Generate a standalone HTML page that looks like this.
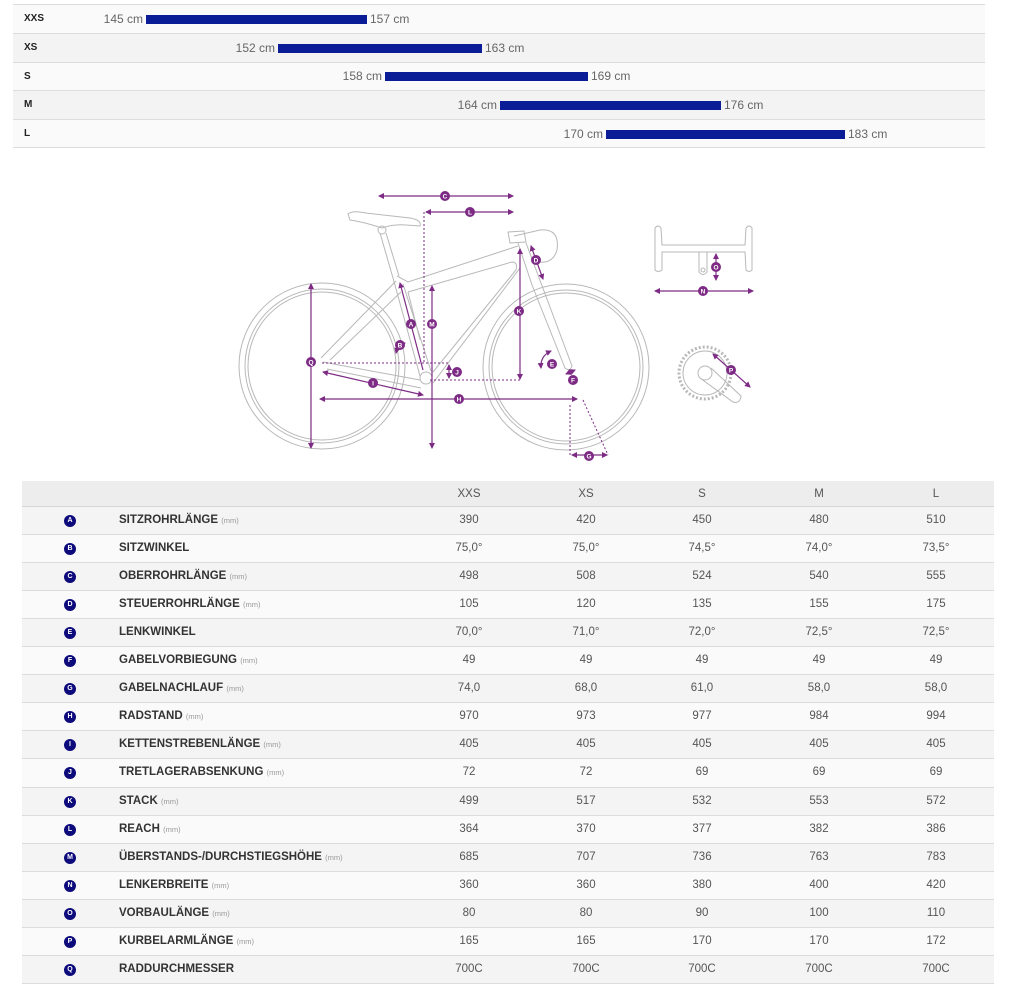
<!DOCTYPE html>
<html><head><meta charset="utf-8">
<style>
*{margin:0;padding:0;box-sizing:border-box}
html,body{width:1015px;height:1001px;background:#fff;overflow:hidden;font-family:"Liberation Sans",sans-serif;position:relative}
.tr{position:absolute;left:13px;width:972px;height:29px;border-top:1px solid #ddd}
.tl{position:absolute;left:11px;top:0;line-height:28px;font-size:10px;font-weight:bold;color:#222}
.bar{position:absolute;height:9px;background:#0b1d96}
.lt{position:absolute;font-size:12px;color:#666;line-height:14px;white-space:nowrap}
.br{position:absolute;left:22px;width:972px;height:28px;border-bottom:1px solid #dcdcdc}
.c{position:absolute;left:42px;top:8px;width:12px;height:12px;border-radius:50%;background:#0d0b7c;color:#fff;font-size:7px;font-weight:bold;text-align:center;line-height:12px}
.lb{position:absolute;left:97px;top:0;line-height:27px;font-size:11.5px;font-weight:bold;color:#333;white-space:nowrap}
.lb small{font-size:7.5px;font-weight:normal;color:#999}
.v{position:absolute;top:0;width:116px;text-align:center;line-height:27px;font-size:11.5px;color:#555}
.v1{left:389px}.v2{left:506px}.v3{left:622px}.v4{left:739px}.v5{left:856px}
</style></head><body>

<!-- top size chart -->
<div class="tr" style="top:4px;background:#fafafa"><div class="tl">XXS</div></div>
<div class="tr" style="top:33px;background:#f3f3f3"><div class="tl">XS</div></div>
<div class="tr" style="top:62px;background:#fafafa"><div class="tl">S</div></div>
<div class="tr" style="top:90px;background:#f3f3f3"><div class="tl">M</div></div>
<div class="tr" style="top:119px;background:#fafafa;border-bottom:1px solid #ddd;height:29px"><div class="tl">L</div></div>

<div class="bar" style="left:146px;top:15px;width:221px"></div>
<div class="lt" style="right:872px;top:12px">145 cm</div><div class="lt" style="left:370px;top:12px">157 cm</div>
<div class="bar" style="left:278px;top:44px;width:204px"></div>
<div class="lt" style="right:740px;top:41px">152 cm</div><div class="lt" style="left:485px;top:41px">163 cm</div>
<div class="bar" style="left:385px;top:72px;width:203px"></div>
<div class="lt" style="right:633px;top:69px">158 cm</div><div class="lt" style="left:591px;top:69px">169 cm</div>
<div class="bar" style="left:500px;top:101px;width:221px"></div>
<div class="lt" style="right:518px;top:98px">164 cm</div><div class="lt" style="left:724px;top:98px">176 cm</div>
<div class="bar" style="left:606px;top:130px;width:239px"></div>
<div class="lt" style="right:412px;top:127px">170 cm</div><div class="lt" style="left:848px;top:127px">183 cm</div>

<!-- bike diagram -->
<svg style="position:absolute;left:0;top:0" width="1015" height="475" viewBox="0 0 1015 475">
<defs>
<marker id="ar" viewBox="0 0 6 6" refX="5" refY="3" markerWidth="5" markerHeight="5" orient="auto-start-reverse"><path d="M0,0L6,3L0,6Z" fill="#7d2b85"/></marker>
</defs>
<g fill="none" stroke="#b8b8b8" stroke-width="1">
<circle cx="322" cy="366" r="83"/><circle cx="322" cy="366" r="77"/><circle cx="322" cy="366" r="74"/>
<circle cx="566" cy="367" r="83"/><circle cx="566" cy="367" r="77"/><circle cx="566" cy="367" r="74"/>
<path d="M348,214 Q352,210 366,213 L410,218 Q422,220 420,226 L406,225 Q394,224 382,228 Q364,222 350,220 Z"/>
<circle cx="382" cy="230" r="4"/>
<path d="M380,233 L393,278 M386,233 L399,276"/>
<path d="M393,278 L420,376 M403,284 L431,371"/>
<circle cx="426" cy="378" r="6"/>
<path d="M397,276 L408,282 L518,246 M408,292 L512,262 Q518,262 516,270 L433,372 M408,292 L420,340"/>
<path d="M520,268 L433,383"/>
<path d="M518,243 L532,285 M526,243 L541,283"/>
<path d="M532,285 L565,368 Q570,372 572,366 L541,283"/>
<path d="M508,232 L524,231 L526,242 L510,243 Z M514,236 L540,230 Q560,228 557,250 Q553,264 538,262 L534,256"/>
<path d="M323,362 L420,380 M327,369 L421,388"/>
<path d="M396,281 L321,358 M401,292 L330,360"/>
<path d="M655,228 Q658,224 661,228 L662,245 L745,245 L746,228 Q749,224 752,228 L752,270 Q749,273 746,270 L745,252 L662,252 L662,270 Q658,273 655,270 Z"/>
<path d="M699,252 L707,252 L707,272 Q703,277 699,272 Z"/><circle cx="703" cy="270" r="2"/>
<circle cx="705" cy="373" r="26" stroke-dasharray="2 2" stroke-width="3"/>
<circle cx="705" cy="373" r="22"/><circle cx="705" cy="373" r="7"/>
<path d="M700,378 L733,402 Q740,404 741,396 L711,368"/>
</g>
<g fill="none" stroke="#7d2b85" stroke-width="1.2">
<path d="M379,196 L513,196" marker-start="url(#ar)" marker-end="url(#ar)"/>
<path d="M426,212 L513,212" marker-start="url(#ar)" marker-end="url(#ar)"/>
<path d="M400,283 L423,370" marker-start="url(#ar)"/>
<path d="M432,286 L432,448" marker-start="url(#ar)" marker-end="url(#ar)"/>
<path d="M520,249 L520,379" marker-start="url(#ar)" marker-end="url(#ar)"/>
<path d="M531,246 L543,279" marker-start="url(#ar)" marker-end="url(#ar)"/>
<path d="M449,365 L449,378" marker-start="url(#ar)" marker-end="url(#ar)"/>
<path d="M323,372 L423,395" marker-start="url(#ar)" marker-end="url(#ar)"/>
<path d="M320,399 L577,399" marker-start="url(#ar)" marker-end="url(#ar)"/>
<path d="M311,284 L311,448" marker-start="url(#ar)" marker-end="url(#ar)"/>
<path d="M572,455 L607,455" marker-start="url(#ar)" marker-end="url(#ar)"/>
<path d="M396,353 Q398,345 405,343" marker-start="url(#ar)" marker-end="url(#ar)"/>
<path d="M541,368 Q540,356 551,351" marker-start="url(#ar)" marker-end="url(#ar)"/>
<path d="M566,374 L575,370" marker-start="url(#ar)" marker-end="url(#ar)"/>
<path d="M716,254 L716,280" marker-start="url(#ar)" marker-end="url(#ar)"/>
<path d="M655,291 L753,291" marker-start="url(#ar)" marker-end="url(#ar)"/>
<path d="M713,354 L750,387" marker-start="url(#ar)" marker-end="url(#ar)"/>
<g stroke-dasharray="2 2" stroke-width="1">
<path d="M424,212 L424,364"/>
<path d="M322,363 L450,363"/>
<path d="M430,380 L520,380"/>
<path d="M570,405 L570,455"/>
<path d="M583,400 L608,455"/>
</g>
</g>
<g fill="#7d2b85">
<circle cx="445" cy="196" r="5"/><circle cx="470" cy="212" r="5"/><circle cx="411" cy="324" r="5"/>
<circle cx="400" cy="345" r="5"/><circle cx="432" cy="324" r="5"/><circle cx="519" cy="311" r="5"/>
<circle cx="536" cy="260" r="5"/><circle cx="552" cy="364" r="5"/><circle cx="573" cy="380" r="5"/>
<circle cx="457" cy="372" r="5"/><circle cx="373" cy="383" r="5"/><circle cx="459" cy="399" r="5"/>
<circle cx="311" cy="362" r="5"/><circle cx="589" cy="456" r="5"/><circle cx="716" cy="267" r="5"/>
<circle cx="703" cy="291" r="5"/><circle cx="731" cy="370" r="5"/>
</g>
<g fill="#fff" font-family="Liberation Sans" font-weight="bold" font-size="6.5" text-anchor="middle">
<text x="445" y="198.3">C</text><text x="470" y="214.3">L</text><text x="411" y="326.3">A</text>
<text x="400" y="347.3">B</text><text x="432" y="326.3">M</text><text x="519" y="313.3">K</text>
<text x="536" y="262.3">D</text><text x="552" y="366.3">E</text><text x="573" y="382.3">F</text>
<text x="457" y="374.3">J</text><text x="373" y="385.3">I</text><text x="459" y="401.3">H</text>
<text x="311" y="364.3">Q</text><text x="589" y="458.3">G</text><text x="716" y="269.3">O</text>
<text x="703" y="293.3">N</text><text x="731" y="372.3">P</text>
</g>
</svg>

<!-- geometry table -->
<div class="br" style="top:481px;height:26px;background:#ededed;border-bottom:1px solid #d5d5d5">
<div class="v v1" style="line-height:26px">XXS</div><div class="v v2" style="line-height:26px">XS</div><div class="v v3" style="line-height:26px">S</div><div class="v v4" style="line-height:26px">M</div><div class="v v5" style="line-height:26px">L</div></div>

<div class="br" style="top:507px;background:#f4f4f4"><div class="c">A</div><div class="lb">SITZROHRLÄNGE <small>(mm)</small></div><div class="v v1">390</div><div class="v v2">420</div><div class="v v3">450</div><div class="v v4">480</div><div class="v v5">510</div></div>
<div class="br" style="top:535px;background:#fafafa"><div class="c">B</div><div class="lb">SITZWINKEL</div><div class="v v1">75,0°</div><div class="v v2">75,0°</div><div class="v v3">74,5°</div><div class="v v4">74,0°</div><div class="v v5">73,5°</div></div>
<div class="br" style="top:563px;background:#f4f4f4"><div class="c">C</div><div class="lb">OBERROHRLÄNGE <small>(mm)</small></div><div class="v v1">498</div><div class="v v2">508</div><div class="v v3">524</div><div class="v v4">540</div><div class="v v5">555</div></div>
<div class="br" style="top:591px;background:#fafafa"><div class="c">D</div><div class="lb">STEUERROHRLÄNGE <small>(mm)</small></div><div class="v v1">105</div><div class="v v2">120</div><div class="v v3">135</div><div class="v v4">155</div><div class="v v5">175</div></div>
<div class="br" style="top:619px;background:#f4f4f4"><div class="c">E</div><div class="lb">LENKWINKEL</div><div class="v v1">70,0°</div><div class="v v2">71,0°</div><div class="v v3">72,0°</div><div class="v v4">72,5°</div><div class="v v5">72,5°</div></div>
<div class="br" style="top:647px;background:#fafafa"><div class="c">F</div><div class="lb">GABELVORBIEGUNG <small>(mm)</small></div><div class="v v1">49</div><div class="v v2">49</div><div class="v v3">49</div><div class="v v4">49</div><div class="v v5">49</div></div>
<div class="br" style="top:675px;background:#f4f4f4"><div class="c">G</div><div class="lb">GABELNACHLAUF <small>(mm)</small></div><div class="v v1">74,0</div><div class="v v2">68,0</div><div class="v v3">61,0</div><div class="v v4">58,0</div><div class="v v5">58,0</div></div>
<div class="br" style="top:703px;background:#fafafa"><div class="c">H</div><div class="lb">RADSTAND <small>(mm)</small></div><div class="v v1">970</div><div class="v v2">973</div><div class="v v3">977</div><div class="v v4">984</div><div class="v v5">994</div></div>
<div class="br" style="top:731px;background:#f4f4f4"><div class="c">I</div><div class="lb">KETTENSTREBENLÄNGE <small>(mm)</small></div><div class="v v1">405</div><div class="v v2">405</div><div class="v v3">405</div><div class="v v4">405</div><div class="v v5">405</div></div>
<div class="br" style="top:759px;background:#fafafa;height:29px"><div class="c">J</div><div class="lb">TRETLAGERABSENKUNG <small>(mm)</small></div><div class="v v1">72</div><div class="v v2">72</div><div class="v v3">69</div><div class="v v4">69</div><div class="v v5">69</div></div>
<div class="br" style="top:788px;background:#f4f4f4"><div class="c">K</div><div class="lb">STACK <small>(mm)</small></div><div class="v v1">499</div><div class="v v2">517</div><div class="v v3">532</div><div class="v v4">553</div><div class="v v5">572</div></div>
<div class="br" style="top:816px;background:#fafafa"><div class="c">L</div><div class="lb">REACH <small>(mm)</small></div><div class="v v1">364</div><div class="v v2">370</div><div class="v v3">377</div><div class="v v4">382</div><div class="v v5">386</div></div>
<div class="br" style="top:844px;background:#f4f4f4"><div class="c">M</div><div class="lb">ÜBERSTANDS-/DURCHSTIEGSHÖHE <small>(mm)</small></div><div class="v v1">685</div><div class="v v2">707</div><div class="v v3">736</div><div class="v v4">763</div><div class="v v5">783</div></div>
<div class="br" style="top:872px;background:#fafafa"><div class="c">N</div><div class="lb">LENKERBREITE <small>(mm)</small></div><div class="v v1">360</div><div class="v v2">360</div><div class="v v3">380</div><div class="v v4">400</div><div class="v v5">420</div></div>
<div class="br" style="top:900px;background:#f4f4f4"><div class="c">O</div><div class="lb">VORBAULÄNGE <small>(mm)</small></div><div class="v v1">80</div><div class="v v2">80</div><div class="v v3">90</div><div class="v v4">100</div><div class="v v5">110</div></div>
<div class="br" style="top:928px;background:#fafafa"><div class="c">P</div><div class="lb">KURBELARMLÄNGE <small>(mm)</small></div><div class="v v1">165</div><div class="v v2">165</div><div class="v v3">170</div><div class="v v4">170</div><div class="v v5">172</div></div>
<div class="br" style="top:956px;background:#f4f4f4"><div class="c">Q</div><div class="lb">RADDURCHMESSER</div><div class="v v1">700C</div><div class="v v2">700C</div><div class="v v3">700C</div><div class="v v4">700C</div><div class="v v5">700C</div></div>

</body></html>
